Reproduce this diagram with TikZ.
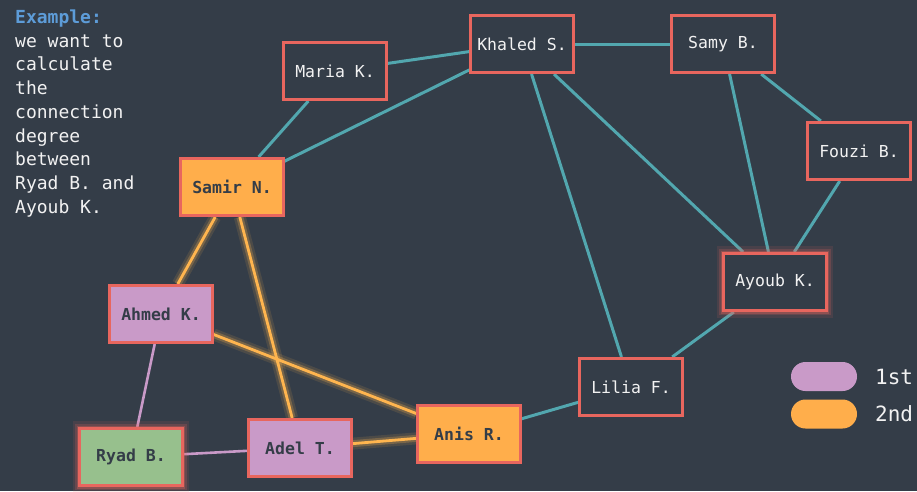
\documentclass[tikz,border=0pt]{standalone}
\usepackage{fontspec}
\setmonofont{DejaVu Sans Mono}
\newfontfamily\mono{DejaVu Sans Mono}
\usetikzlibrary{backgrounds}
\definecolor{bgc}{HTML}{343D48}
\definecolor{bordc}{HTML}{E8665E}
\definecolor{tealc}{HTML}{52A7AF}
\definecolor{purpc}{HTML}{C99AC8}
\definecolor{orc}{HTML}{FFAE4B}
\definecolor{greenc}{HTML}{97C08D}
\definecolor{oredge}{HTML}{FFB54F}
\definecolor{bluec}{HTML}{5D9CD8}
\definecolor{whitec}{HTML}{F2F2F2}
\tikzset{
  person/.style={draw=bordc, line width=2.6pt, minimum width=102.5pt, minimum height=57.5pt,
    inner sep=0pt, font=\mono\fontsize{16.5}{19}\selectfont},
  darkbox/.style={person, fill=bgc, text=whitec},
  firstbox/.style={person, fill=purpc, text=bgc, font=\mono\bfseries\fontsize{16.5}{19}\selectfont},
  secondbox/.style={person, fill=orc, text=bgc, font=\mono\bfseries\fontsize{16.5}{19}\selectfont},
  startbox/.style={person, fill=greenc, text=bgc, font=\mono\bfseries\fontsize{16.5}{19}\selectfont},
  glowbox/.style={preaction={draw=bordc, line width=14pt, draw opacity=0.12},
    preaction={draw=bordc, line width=9pt, draw opacity=0.2},
    preaction={draw=bordc, line width=5.5pt, draw opacity=0.3}},
  tealedge/.style={draw=tealc, line width=3pt},
  purpedge/.style={draw=purpc, line width=2.6pt},
  oredgest/.style={draw=oredge, line width=2.8pt,
    preaction={draw=oredge, line width=12pt, draw opacity=0.12},
    preaction={draw=oredge, line width=7pt, draw opacity=0.25}},
  pill/.style={minimum width=66pt, minimum height=29pt, rounded corners=14.5pt, inner sep=0pt},
  legtext/.style={anchor=west, text=whitec, inner sep=0pt, font=\mono\fontsize{21}{24}\selectfont},
}
\begin{document}
\begin{tikzpicture}[x=1pt,y=-1pt]
\useasboundingbox (0,0) rectangle (917,491);
% text block
\node[anchor=north west, inner sep=0pt, align=left, text=whitec,
  font=\mono\fontsize{18}{23.75}\selectfont] (intro) at (15,9.5)
  {\textcolor{bluec}{\bfseries Example:}\\we want to\\calculate\\the\\connection\\degree\\between\\Ryad B. and\\Ayoub K.};
% nodes
\node[darkbox] (maria) at (335,71) {Maria K.};
\node[darkbox] (khaled) at (522,44) {Khaled S.};
\node[darkbox] (samy) at (723,44) {Samy B.};
\node[darkbox] (fouzi) at (859,151) {Fouzi B.};
\node[darkbox, glowbox] (ayoub) at (775,282) {Ayoub K.};
\node[darkbox] (lilia) at (631,387) {Lilia F.};
\node[secondbox] (anis) at (469,434) {Anis R.};
\node[secondbox] (samir) at (232,187) {Samir N.};
\node[firstbox] (ahmed) at (161,314) {Ahmed K.};
\node[firstbox] (adel) at (300,448) {Adel T.};
\node[startbox, glowbox] (ryad) at (131,457) {Ryad B.};
% legend
\node[pill, fill=purpc] (leg1) at (824,376.5) {};
\node[pill, fill=orc] (leg2) at (824,414) {};
\node[legtext] (leg1t) at (875,376.5) {1st};
\node[legtext] (leg2t) at (875,414) {2nd};
\begin{scope}[on background layer]
\fill[bgc] (0,0) rectangle (917,491);
\draw[tealedge] (maria) -- (khaled);
\draw[tealedge] (maria) -- (samir);
\draw[tealedge] (khaled) -- (samir);
\draw[tealedge] (khaled) -- (samy);
\draw[tealedge] (khaled) -- (lilia);
\draw[tealedge] (khaled) -- (ayoub);
\draw[tealedge] (samy) -- (fouzi);
\draw[tealedge] (samy) -- (ayoub);
\draw[tealedge] (fouzi) -- (ayoub);
\draw[tealedge] (ayoub) -- (lilia);
\draw[tealedge] (lilia) -- (anis);
\draw[oredgest] (samir) -- (ahmed);
\draw[oredgest] (samir) -- (adel);
\draw[oredgest] (ahmed) -- (anis);
\draw[oredgest] (adel) -- (anis);
\draw[purpedge] (ahmed) -- (ryad);
\draw[purpedge] (ryad) -- (adel);
\end{scope}
\end{tikzpicture}
\end{document}
